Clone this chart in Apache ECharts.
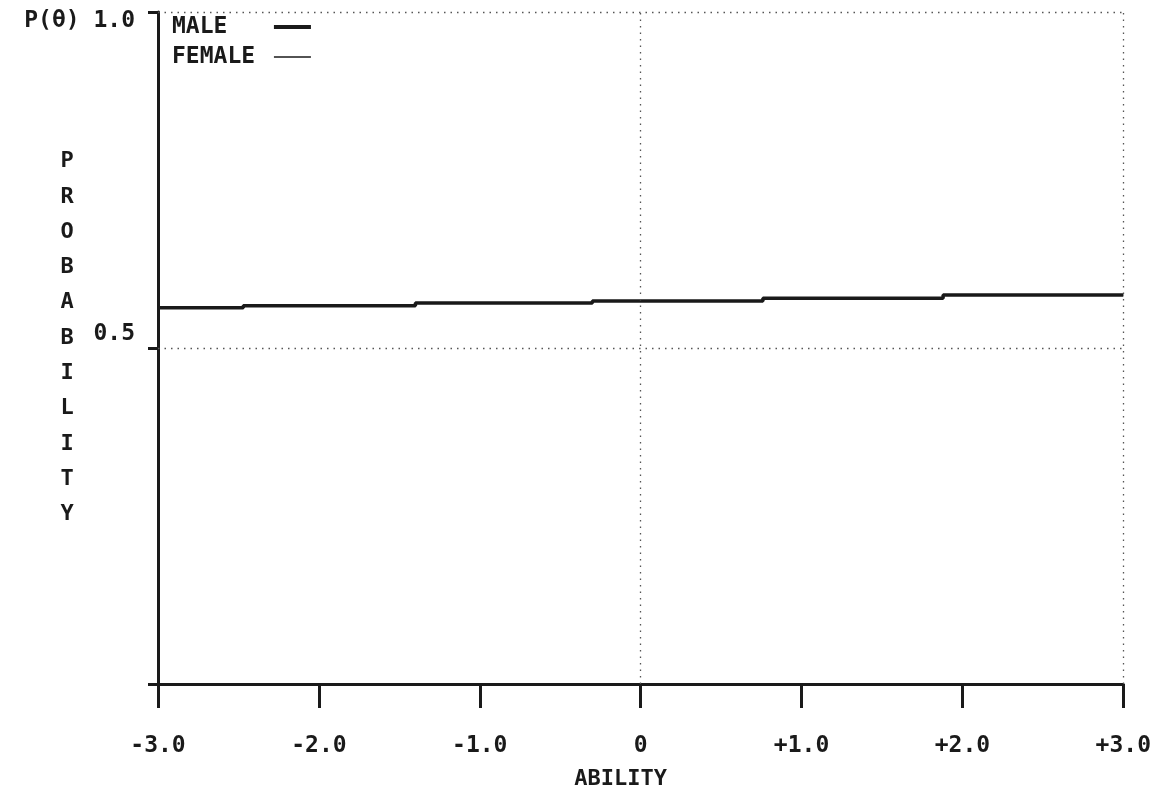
<!DOCTYPE html>
<html>
<head>
<meta charset="utf-8">
<script src="https://cdn.jsdelivr.net/npm/echarts@6/dist/echarts.min.js"></script>
<style>
html,body{margin:0;padding:0;background:#fff;}
#chart{width:1154px;height:797px;}
</style>
</head>
<body>
<div id="chart"></div>
<script>
// Step boundaries on the ability axis and the probability level held on each step
var stepEdges  = [-3.0, -2.47, -1.4, -0.3, 0.76, 1.88, 3.0];
var maleProb   = [0.560, 0.563, 0.567, 0.570, 0.574, 0.579];
var femaleProb = [0.560, 0.563, 0.567, 0.570, 0.574, 0.579];
var xTicks = {'-3': '-3.0', '-2': '-2.0', '-1': '-1.0', '0': '0', '1': '+1.0', '2': '+2.0', '3': '+3.0'};
var yTicks = {'1': '{top|P(θ) 1.0}', '0.5': '{mid|0.5}'};
var yTitle = 'PROBABILITY';
var xTitle = 'ABILITY';
var gridX = [0, 3];
var gridY = [0.5, 1.0];

var ink = '#1a1a1a';
var font = 'DejaVu Sans Mono';

// each level is held from one edge to the next
function steps(edges, levels){
  var out = [];
  levels.forEach(function(v, i){ out.push([edges[i], v]); out.push([edges[i + 1], v]); });
  return out;
}

var chart = echarts.init(document.getElementById('chart'), null, {renderer:'canvas'});
chart.setOption({
  animation: false,
  backgroundColor: '#fff',
  grid: {left: 158, right: 29, top: 12, bottom: 113, containLabel: false},
  legend: {
    orient: 'vertical', left: 167, top: -1, align: 'right',
    itemWidth: 37, itemHeight: 14, itemGap: -16,
    itemStyle: {opacity: 0},
    textStyle: {fontFamily: font, fontSize: 23, fontWeight: 'bold', color: ink, lineHeight: 24, padding: [0, 0, 22, 0]},
    formatter: function(n){ return n + '      '.slice(n.length) + ' '; },
    data: [
      {name: 'MALE', lineStyle: {width: 4, color: ink}},
      {name: 'FEMALE', lineStyle: {width: 1.5, color: ink}}
    ]
  },
  xAxis: {
    type: 'value', min: -3, max: 3, interval: 1,
    name: xTitle, nameLocation: 'middle', nameGap: 84, nameMoveOverlap: false,
    nameTextStyle: {fontFamily: font, fontSize: 22, fontWeight: 'bold', color: ink, padding: [0, 40, 0, 0]},
    axisLine: {show: true, onZero: false, lineStyle: {color: ink, width: 3}},
    axisTick: {show: true, length: 24, lineStyle: {color: ink, width: 3}},
    axisLabel: {fontFamily: font, fontSize: 23, fontWeight: 'bold', color: ink, margin: 51,
      formatter: function(v){ return xTicks[String(v)] || ''; }},
    splitLine: {show: false}
  },
  yAxis: {
    type: 'value', min: 0, max: 1, interval: 0.5,
    name: yTitle.split('').map(function(c){ return '{l|' + c + '}'; }).join('\n') + '\n{s| }',
    nameLocation: 'middle', nameGap: 91, nameRotate: 0,
    nameMoveOverlap: false,
    nameTextStyle: {fontFamily: font, fontSize: 22, fontWeight: 'bold', color: ink,
      align: 'center', verticalAlign: 'middle',
      rich: {
        l: {fontFamily: font, fontSize: 22, fontWeight: 'bold', color: ink, lineHeight: 35.3},
        s: {fontFamily: font, fontSize: 10, color: ink, lineHeight: 20}
      }},
    axisLine: {show: true, onZero: false, lineStyle: {color: ink, width: 3}},
    axisTick: {show: true, length: 10, lineStyle: {color: ink, width: 3}},
    axisLabel: {fontFamily: font, fontSize: 23, fontWeight: 'bold', color: ink, margin: 23,
      verticalAlign: 'middle',
      rich: {
        top: {fontFamily: font, fontSize: 23, fontWeight: 'bold', color: ink, padding: [18, 0, 0, 0]},
        mid: {fontFamily: font, fontSize: 23, fontWeight: 'bold', color: ink, padding: [0, 0, 28, 0]}
      },
      formatter: function(v){ return yTicks[String(v)] || ''; }},
    splitLine: {show: false}
  },
  series: [
    {
      name: 'MALE', type: 'line', symbol: 'none', showSymbol: false,
      data: steps(stepEdges, maleProb),
      lineStyle: {color: ink, width: 3.5}, itemStyle: {color: ink},
      z: 3,
      markLine: {
        silent: true, symbol: 'none', label: {show: false},
        lineStyle: {color: '#555', width: 1.3, type: [1.5, 5]},
        data: gridX.map(function(x){ return {xAxis: x}; })
          .concat(gridY.map(function(y){ return {yAxis: y}; }))
      }
    },
    {
      name: 'FEMALE', type: 'line', symbol: 'none', showSymbol: false,
      data: steps(stepEdges, femaleProb),
      lineStyle: {color: ink, width: 1.5}, itemStyle: {color: ink},
      z: 4
    }
  ]
});
</script>
</body>
</html>
